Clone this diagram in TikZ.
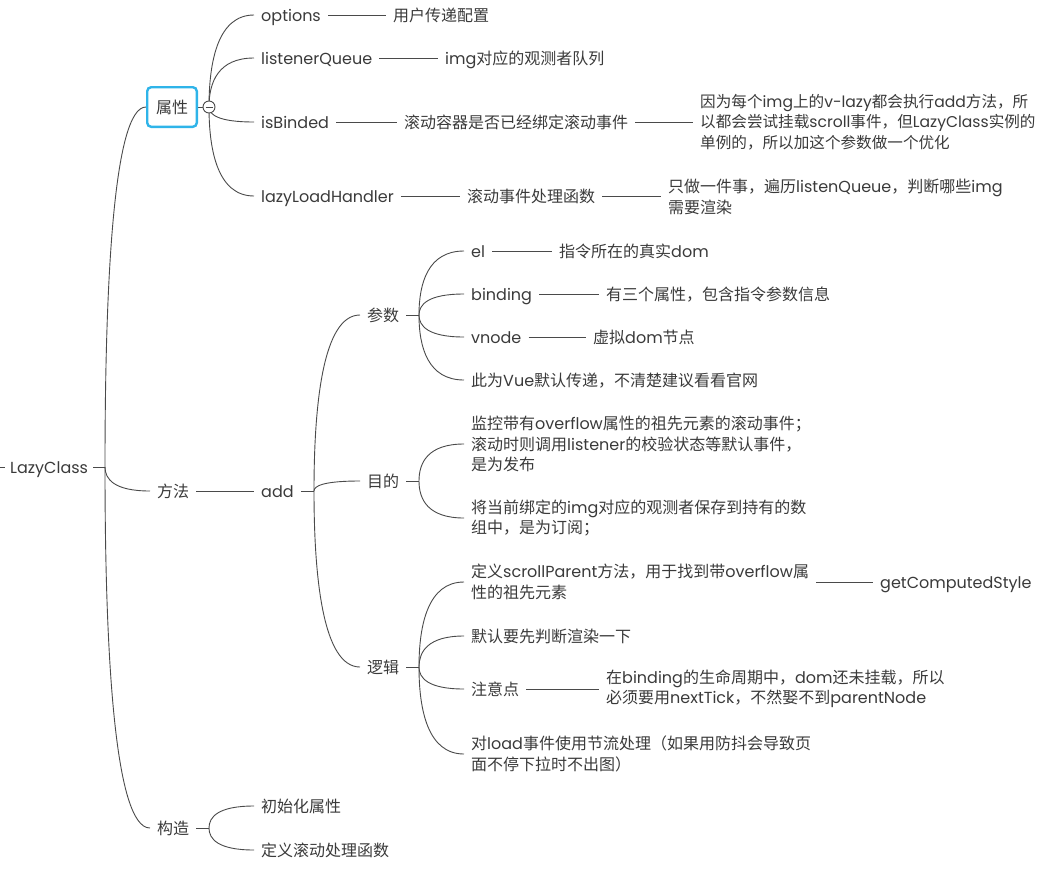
\documentclass[tikz,border=0pt]{standalone}
\usepackage{fontspec}
\setmainfont{Poppins}
\newfontfamily\cjkfont{Noto Sans CJK SC}
\usetikzlibrary{calc}
\XeTeXinterchartokenstate=1
\newXeTeXintercharclass\cjkcls
\newcount\cjkcc
\cjkcc="2E80
\loop \XeTeXcharclass\cjkcc=\cjkcls \advance\cjkcc by 1 \ifnum\cjkcc<"A000 \repeat
\cjkcc="FF00
\loop \XeTeXcharclass\cjkcc=\cjkcls \advance\cjkcc by 1 \ifnum\cjkcc<"FFF0 \repeat
\XeTeXinterchartoks 0 \cjkcls = {\begingroup\cjkfont}
\XeTeXinterchartoks 4095 \cjkcls = {\begingroup\cjkfont}
\XeTeXinterchartoks \cjkcls 0 = {\endgroup}
\XeTeXinterchartoks \cjkcls 4095 = {\endgroup}
\definecolor{txt}{HTML}{3A3A3A}
\definecolor{lc}{HTML}{4A4A4A}
\definecolor{cyanc}{HTML}{2FB4E9}
\pgfdeclarelayer{bg}
\pgfsetlayers{bg,main}
\newcommand\conn[2]{\draw[ln] (#1) .. controls ($(#1)!0.5!(#1|-#2)$) and ($(#2)!0.8!(#1|-#2)$) .. (#2);}
\begin{document}
\begin{tikzpicture}[x=1pt,y=-1pt,
  every node/.style={font=\fontsize{16}{20.5}\selectfont, text=txt},
  t/.style={anchor=west, inner xsep=7pt, inner ysep=1pt, align=left},
  s/.style={t, text height=14.7pt, text depth=2.6pt},
  ln/.style={draw=lc, line width=0.9pt}]
\useasboundingbox (0,0) rectangle (1039,871);
% root
\node[s, inner xsep=5pt] (root) at (5,467) {LazyClass};
\coordinate (stub) at (0,467);
\coordinate (j0) at (105,467);
% level 1
\node[draw=cyanc, line width=2.4pt, rounded corners=4pt, minimum width=49.6pt, minimum height=39.6pt, inner sep=0pt, text height=14.7pt, text depth=2.6pt] (sx) at (172,107) {属性};
\node[circle, draw=lc, fill=white, line width=0.9pt, minimum size=12pt, inner sep=0pt] (cc) at (209,107) {};
\draw[ln] ([xshift=-3.5pt]cc.center) -- ([xshift=3.5pt]cc.center);
\node[s] (ff) at (150,491) {方法};
\node[s] (gz) at (150,828) {构造};
% properties
\node[s] (op) at (254,15) {options};
\node[s] (opd) at (386,15) {用户传递配置};
\node[s] (lq) at (254,58) {listenerQueue};
\node[s] (lqd) at (438,58) {img对应的观测者队列};
\node[s] (ib) at (254,122) {isBinded};
\node[s] (ibd) at (397,122) {滚动容器是否已经绑定滚动事件};
\node[t, font=\fontsize{15.6}{20.5}\selectfont] (ibn) at (693,122) {因为每个img上的v-lazy都会执行add方法，所\\以都会尝试挂载scroll事件，但LazyClass实例的\\单例的，所以加这个参数做一个优化};
\node[s] (lh) at (254,196) {lazyLoadHandler};
\node[s] (lhd) at (460,196) {滚动事件处理函数};
\node[t] (lhn) at (661,197) {只做一件事，遍历listenQueue，判断哪些img\\需要渲染};
% methods
\node[s] (add) at (254,491) {add};
\coordinate (jadd) at (314,491);
\node[s] (cs) at (360,315) {参数};
\node[s] (md) at (360,481) {目的};
\node[s] (lj) at (360,667) {逻辑};
\coordinate (jcs) at (419,315);
\coordinate (jmd) at (419,481);
\coordinate (jlj) at (419,667);
\node[s] (el) at (464,251) {el};
\node[s] (eld) at (552,251) {指令所在的真实dom};
\node[s] (bd) at (464,294) {binding};
\node[s] (bdd) at (599,294) {有三个属性，包含指令参数信息};
\node[s] (vn) at (464,337) {vnode};
\node[s] (vnd) at (586,337) {虚拟dom节点};
\node[s] (vue) at (464,380) {此为Vue默认传递，不清楚建议看看官网};
\node[t] (md1) at (464,444) {监控带有overflow属性的祖先元素的滚动事件；\\滚动时则调用listener的校验状态等默认事件，\\是为发布};
\node[t] (md2) at (464,518) {将当前绑定的img对应的观测者保存到持有的数\\组中，是为订阅；};
\node[t] (lj1) at (464,582) {定义scrollParent方法，用于找到带overflow属\\性的祖先元素};
\node[s] (gcs) at (873,582) {getComputedStyle};
\node[s] (lj2) at (464,636) {默认要先判断渲染一下};
\node[s] (lj3) at (464,689) {注意点};
\node[t] (lj3d) at (599,689) {在binding的生命周期中，dom还未挂载，所以\\必须要用nextTick，不然娶不到parentNode};
\node[t] (lj4) at (464,754) {对load事件使用节流处理（如果用防抖会导致页\\面不停下拉时不出图）};
% construct
\coordinate (jgz) at (209,828);
\node[s] (gz1) at (254,806) {初始化属性};
\node[s] (gz2) at (254,850) {定义滚动处理函数};
\begin{pgfonlayer}{bg}
\draw[ln] (stub) -- (root.west);
\draw[ln] (root.east) -- (j0);
\conn{j0}{sx.west}
\conn{j0}{ff.west}
\conn{j0}{gz.west}
\draw[ln] (sx.east) -- (cc.west);
\conn{cc.center}{op.west}
\conn{cc.center}{lq.west}
\conn{cc.center}{ib.west}
\conn{cc.center}{lh.west}
\draw[ln] (op.east) -- (opd.west);
\draw[ln] (lq.east) -- (lqd.west);
\draw[ln] (ib.east) -- (ibd.west);
\draw[ln] (ibd.east) -- (ibn.west);
\draw[ln] (lh.east) -- (lhd.west);
\draw[ln] (lhd.east) -- (lhn.west|-lhd.east);
\draw[ln] (ff.east) -- (add.west);
\draw[ln] (add.east) -- (jadd);
\conn{jadd}{cs.west}
\conn{jadd}{md.west}
\conn{jadd}{lj.west}
\draw[ln] (cs.east) -- (jcs);
\draw[ln] (md.east) -- (jmd);
\draw[ln] (lj.east) -- (jlj);
\conn{jcs}{el.west}
\conn{jcs}{bd.west}
\conn{jcs}{vn.west}
\conn{jcs}{vue.west}
\draw[ln] (el.east) -- (eld.west);
\draw[ln] (bd.east) -- (bdd.west);
\draw[ln] (vn.east) -- (vnd.west);
\conn{jmd}{md1.west}
\conn{jmd}{md2.west}
\conn{jlj}{lj1.west}
\conn{jlj}{lj2.west}
\conn{jlj}{lj3.west}
\conn{jlj}{lj4.west}
\draw[ln] (lj1.east) -- (gcs.west);
\draw[ln] (lj3.east) -- (lj3d.west);
\draw[ln] (gz.east) -- (jgz);
\conn{jgz}{gz1.west}
\conn{jgz}{gz2.west}
\end{pgfonlayer}
\end{tikzpicture}
\end{document}
